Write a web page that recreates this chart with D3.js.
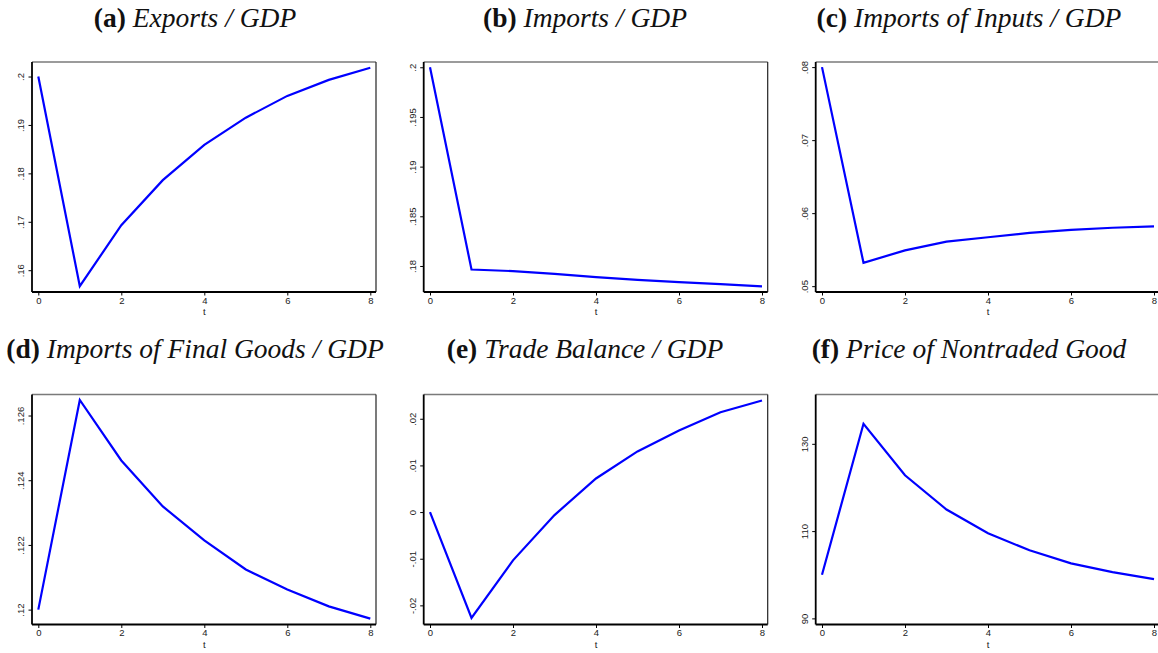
<!DOCTYPE html>
<html><head><meta charset="utf-8">
<script src="https://cdn.jsdelivr.net/npm/d3@7"></script>
<style>
html,body{margin:0;padding:0;background:#fff;}
svg{display:block;}
</style>
</head><body>
<svg id="chart" width="1158" height="653"></svg>
<script>
// ---- data ----
const periods = [0, 1, 2, 3, 4, 5, 6, 7, 8];
const xTicks = [0, 2, 4, 6, 8];

const exportsGDP       = [0.2000, 0.1567, 0.1693, 0.1786, 0.1859, 0.1915, 0.1960, 0.1993, 0.2018];
const importsGDP       = [0.2000, 0.17964, 0.17948, 0.17921, 0.17888, 0.17861, 0.17838, 0.17818, 0.17795];
const importsInputsGDP = [0.0800, 0.0532, 0.0549, 0.0561, 0.0567, 0.0573, 0.0577, 0.0580, 0.0582];
const importsFinalGDP  = [0.1200, 0.12648, 0.12461, 0.12319, 0.12214, 0.12124, 0.12062, 0.12010, 0.11972];
const tradeBalanceGDP  = [0.0000, -0.0227, -0.01035, -0.00064, 0.0072, 0.0130, 0.0175, 0.0214, 0.0239];
const priceNontraded   = [100, 134.6, 122.8, 114.95, 109.5, 105.6, 102.6, 100.6, 99.0];

const ticksA = [0.16, 0.17, 0.18, 0.19, 0.2];   const labelsA = [".16", ".17", ".18", ".19", ".2"];
const ticksB = [0.18, 0.185, 0.19, 0.195, 0.2]; const labelsB = [".18", ".185", ".19", ".195", ".2"];
const ticksC = [0.05, 0.06, 0.07, 0.08];        const labelsC = [".05", ".06", ".07", ".08"];
const ticksD = [0.12, 0.122, 0.124, 0.126];     const labelsD = [".12", ".122", ".124", ".126"];
const ticksE = [-0.02, -0.01, 0, 0.01, 0.02];   const labelsE = ["-.02", "-.01", "0", ".01", ".02"];
const ticksF = [90, 110, 130];                  const labelsF = ["90", "110", "130"];

const tags   = ["(a)", "(b)", "(c)", "(d)", "(e)", "(f)"];
const titles = ["Exports / GDP", "Imports / GDP", "Imports of Inputs / GDP",
                "Imports of Final Goods / GDP", "Trade Balance / GDP", "Price of Nontraded Good"];

const panels = [
  {values: exportsGDP,       domain: [0.1555, 0.2030],   ticks: ticksA, labels: labelsA},
  {values: importsGDP,       domain: [0.17738, 0.20053], ticks: ticksB, labels: labelsB},
  {values: importsInputsGDP, domain: [0.0492, 0.0807],   ticks: ticksC, labels: labelsC},
  {values: importsFinalGDP,  domain: [0.11954, 0.12665], ticks: ticksD, labels: labelsD},
  {values: tradeBalanceGDP,  domain: [-0.0241, 0.0252],  ticks: ticksE, labels: labelsE},
  {values: priceNontraded,   domain: [88.6, 141.3],      ticks: ticksF, labels: labelsF}
];

// ---- layout ----
const colLeft   = [32, 423.7, 815.7];
const colCenter = [195, 585, 969];
const rowTop    = [62, 394.5];
const rowTitleY = [26.7, 358.3];
const frameW = 344, frameH = 230;
const padL = 6.3, padR = 5.7;

const svg = d3.select("#chart");
const tickFont = "'Liberation Sans', Arial, sans-serif";

panels.forEach((p, i) => {
  const c = i % 3, r = Math.floor(i / 3);
  const L = colLeft[c], T = rowTop[r];
  const R = L + frameW, B = T + frameH;

  // title
  const title = svg.append("text")
    .attr("x", colCenter[c]).attr("y", rowTitleY[r])
    .attr("text-anchor", "middle")
    .style("font-family", "'Liberation Serif', 'DejaVu Serif', serif")
    .style("font-size", "27.5px")
    .style("fill", "#111");
  title.append("tspan").style("font-weight", "bold").text(tags[i]);
  title.append("tspan").style("font-style", "italic").text("\u00a0" + titles[i]);

  const x = d3.scaleLinear().domain([0, 8]).range([L + padL, R - padR]);
  const y = d3.scaleLinear().domain(p.domain).range([B, T]);

  const g = svg.append("g");

  // frame: top (gray) and right
  g.append("line").attr("x1", L).attr("x2", R).attr("y1", T).attr("y2", T)
    .attr("stroke", "#7a7a7a").attr("stroke-width", 1.6);
  g.append("line").attr("x1", R).attr("x2", R).attr("y1", T).attr("y2", B)
    .attr("stroke", "#222").attr("stroke-width", 1.2);

  // y axis
  const yAxis = d3.axisLeft(y).tickValues(p.ticks)
    .tickFormat((d, k) => p.labels[k]).tickSize(3.5).tickSizeOuter(0);
  const ya = g.append("g").attr("transform", `translate(${L},0)`).call(yAxis);
  ya.select(".domain").attr("stroke", "#000").attr("stroke-width", 1.8)
    .attr("d", `M0,${T}V${B}`);
  ya.selectAll(".tick line").attr("stroke", "#000").attr("stroke-width", 1);
  ya.selectAll(".tick text")
    .attr("x", 0).attr("y", 0).attr("dy", "0.35em")
    .attr("transform", "translate(-11.5,0) rotate(-90)")
    .attr("text-anchor", "middle")
    .style("font-family", tickFont).style("font-size", "9.5px").style("fill", "#222");

  // x axis
  const xAxis = d3.axisBottom(x).tickValues(xTicks).tickSize(3.5).tickSizeOuter(0)
    .tickFormat(d3.format("d"));
  const xa = g.append("g").attr("transform", `translate(0,${B})`).call(xAxis);
  xa.select(".domain").attr("stroke", "#000").attr("stroke-width", 1.8)
    .attr("d", `M${L},0H${R}`);
  xa.selectAll(".tick line").attr("stroke", "#000").attr("stroke-width", 1);
  xa.selectAll(".tick text").attr("y", 5).attr("dy", "0.71em")
    .style("font-family", tickFont).style("font-size", "9.5px").style("fill", "#222");

  g.append("text").attr("x", x(4)).attr("y", B + 23)
    .attr("text-anchor", "middle")
    .style("font-family", tickFont).style("font-size", "9.5px").style("fill", "#222")
    .text("t");

  // series line
  const line = d3.line().x((d, k) => x(periods[k])).y(d => y(d));
  g.append("path").datum(p.values)
    .attr("d", line)
    .attr("fill", "none")
    .attr("stroke", "#0000ff")
    .attr("stroke-width", 2.2)
    .attr("stroke-linejoin", "miter");
});
</script>
</body></html>
